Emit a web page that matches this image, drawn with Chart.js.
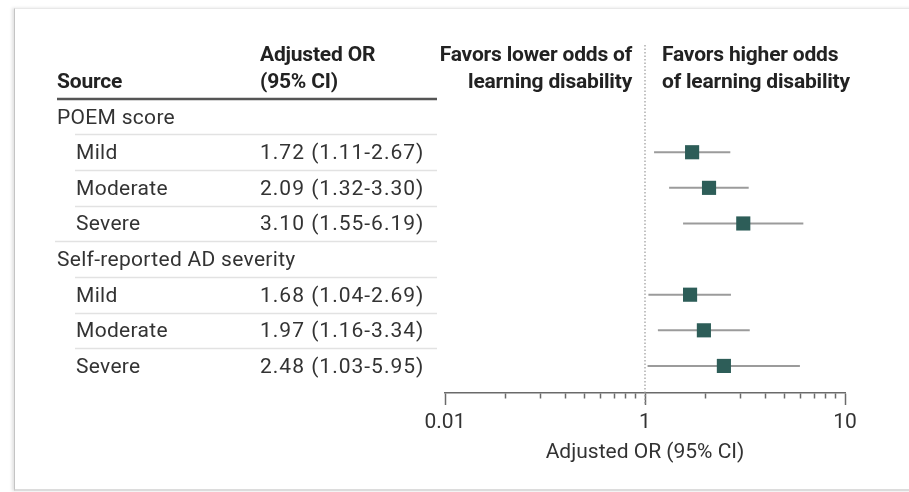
<!DOCTYPE html>
<html>
<head>
<meta charset="utf-8">
<script src="https://cdn.jsdelivr.net/npm/chart.js@4.4.1/dist/chart.umd.min.js"></script>
<style>
  html, body { margin: 0; padding: 0; background: #fff; }
  #wrap { position: relative; width: 909px; height: 492px; overflow: hidden; }
  #frame {
    position: absolute; left: 14px; top: 8px; width: 910px; height: 480px;
    border-left: 1px solid #c4c4c4; border-top: 1px solid #e8e8e8; border-bottom: 2px solid #dcdcdc;
    box-shadow: -2px 0 3px rgba(0,0,0,0.12);
  }
  #myChart { position: absolute; left: 0; top: 0; }
</style>
</head>
<body>
<div id="wrap">
  <div id="frame"></div>
  <canvas id="myChart" width="909" height="492"></canvas>
</div>
<script>
// rows of the forest plot (top to bottom)
const rowLabels = ['POEM score', 'Mild', 'Moderate', 'Severe', 'Self-reported AD severity', 'Mild', 'Moderate', 'Severe'];
const isGroup = [true, false, false, false, true, false, false, false];
const orValues = [null, 1.72, 2.09, 3.10, null, 1.68, 1.97, 2.48];
const ciLower = [null, 1.11, 1.32, 1.55, null, 1.04, 1.16, 1.03];
const ciUpper = [null, 2.67, 3.30, 6.19, null, 2.69, 3.34, 5.95];

// x axis (log) - labels as printed in the figure
const tickValues = [0.1, 1, 10];
const tickLabels = ['0.01', '1', '10'];
const minorTicks = [0.2, 0.3, 0.4, 0.5, 0.6, 0.7, 0.8, 0.9, 2, 3, 4, 5, 6, 7, 8, 9];
const axisTitle = 'Adjusted OR (95% CI)';

const headLeft = ['Favors lower odds of', 'learning disability'];
const headRight = ['Favors higher odds', 'of learning disability'];

const HEAD_FONT = '700 21px Roboto, sans-serif';
const BODY_FONT = '400 21px Roboto, sans-serif';
const MARK = '#2d5d58';

function fmt(v){ return v.toFixed(2); }

let datasets = [];
rowLabels.forEach(function(lab, i){
    if (orValues[i] == null) return;
    datasets.push({
        type: 'line',
        order: 2,
        data: [{x: ciLower[i], y: i}, {x: ciUpper[i], y: i}],
        borderColor: '#9b9b9b',
        borderWidth: 2,
        pointRadius: 0,
        pointHoverRadius: 0
    });
});
datasets.push({
    type: 'scatter',
    order: 1,
    data: orValues.map((v, i) => v == null ? null : {x: v, y: i}).filter(p => p),
    pointStyle: 'rect',
    pointRadius: 10,
    pointHoverRadius: 10,
    backgroundColor: MARK,
    borderColor: MARK,
    borderWidth: 0
});

// table text, header and reference line
const tablePlugin = {
    id: 'tableText',
    beforeDatasetsDraw(chart){
        const ctx = chart.ctx;
        const xs = chart.scales.x, ys = chart.scales.y;
        const x1 = xs.getPixelForValue(1);
        ctx.save();
        // dotted line at OR = 1
        ctx.strokeStyle = '#9a9a9a';
        ctx.lineWidth = 1.2;
        ctx.setLineDash([1.5, 2]);
        ctx.beginPath();
        ctx.moveTo(x1, 45);
        ctx.lineTo(x1, chart.chartArea.bottom + 12);
        ctx.stroke();
        ctx.setLineDash([]);

        // row separators
        ctx.strokeStyle = '#e2e2e2';
        ctx.lineWidth = 1.5;
        for (let i = 1; i < rowLabels.length; i++) {
            const y = Math.round(ys.getPixelForValue(i - 0.5)) + 0.5;
            ctx.beginPath();
            ctx.moveTo(isGroup[i] ? 55 : 75, y);
            ctx.lineTo(437, y);
            ctx.stroke();
        }
        // header rule
        ctx.strokeStyle = '#555';
        ctx.lineWidth = 2.5;
        ctx.beginPath();
        ctx.moveTo(57, 99);
        ctx.lineTo(437, 99);
        ctx.stroke();

        // headers
        ctx.fillStyle = '#222';
        ctx.font = HEAD_FONT;
        ctx.letterSpacing = '-0.2px';
        ctx.textBaseline = 'alphabetic';
        ctx.textAlign = 'left';
        ctx.fillText('Source', 57, 88);
        ctx.fillText('Adjusted OR', 260, 61);
        ctx.fillText('(95% CI)', 260, 88);
        ctx.textAlign = 'right';
        ctx.fillText(headLeft[0], x1 - 13, 61);
        ctx.fillText(headLeft[1], x1 - 13, 88);
        ctx.textAlign = 'left';
        ctx.fillText(headRight[0], x1 + 17, 61);
        ctx.fillText(headRight[1], x1 + 17, 88);

        // rows
        ctx.fillStyle = '#333';
        ctx.font = BODY_FONT;
        rowLabels.forEach(function(lab, i){
            const y = ys.getPixelForValue(i) + 7;
            ctx.letterSpacing = '0.3px';
            ctx.fillText(lab, isGroup[i] ? 57 : 76, y);
            if (orValues[i] != null) {
                ctx.letterSpacing = '1px';
                ctx.fillText(fmt(orValues[i]) + ' (' + fmt(ciLower[i]) + '-' + fmt(ciUpper[i]) + ')', 260, y);
            }
        });
        ctx.letterSpacing = '0px';
        ctx.restore();
    }
};

const ctx = document.getElementById('myChart').getContext('2d');
const myChart = new Chart(ctx, {
    data: { datasets: datasets },
    options: {
        responsive: false,
        animation: false,
        events: [],
        layout: { padding: { left: 445, right: 64, top: 81, bottom: 27 } },
        plugins: { legend: { display: false }, tooltip: { enabled: false } },
        scales: {
            x: {
                type: 'logarithmic',
                min: 0.1,
                max: 10,
                afterBuildTicks: function(scale){
                    let all = tickValues.concat(minorTicks).sort((a, b) => a - b);
                    scale.ticks = all.map(v => ({ value: v, major: tickValues.includes(v) }));
                },
                afterFit: function(scale){
                    scale.height = 72;
                },
                border: { display: true, color: '#6a6a6a', width: 1.5 },
                grid: {
                    drawOnChartArea: false,
                    drawTicks: true,
                    tickLength: 12,
                    color: '#6a6a6a',
                    tickColor: '#6a6a6a',
                    tickWidth: 1.5,
                    tickBorderDash: (c) => (c.tick && c.tick.major) ? [] : [5, 30]
                },
                ticks: {
                    autoSkip: false,
                    maxRotation: 0,
                    padding: 5,
                    color: '#333',
                    font: { family: 'Roboto', size: 21 },
                    callback: function(value){
                        const k = tickValues.findIndex(t => Math.abs(t - value) < 1e-9);
                        return k >= 0 ? tickLabels[k] : '';
                    }
                },
                title: {
                    display: true,
                    text: axisTitle,
                    color: '#333',
                    font: { family: 'Roboto', size: 21 },
                    padding: { top: 0, bottom: 0 }
                }
            },
            y: {
                type: 'linear',
                display: false,
                reverse: true,
                min: -1,
                max: 7.76
            }
        }
    },
    plugins: [tablePlugin]
});
</script>
</body>
</html>
